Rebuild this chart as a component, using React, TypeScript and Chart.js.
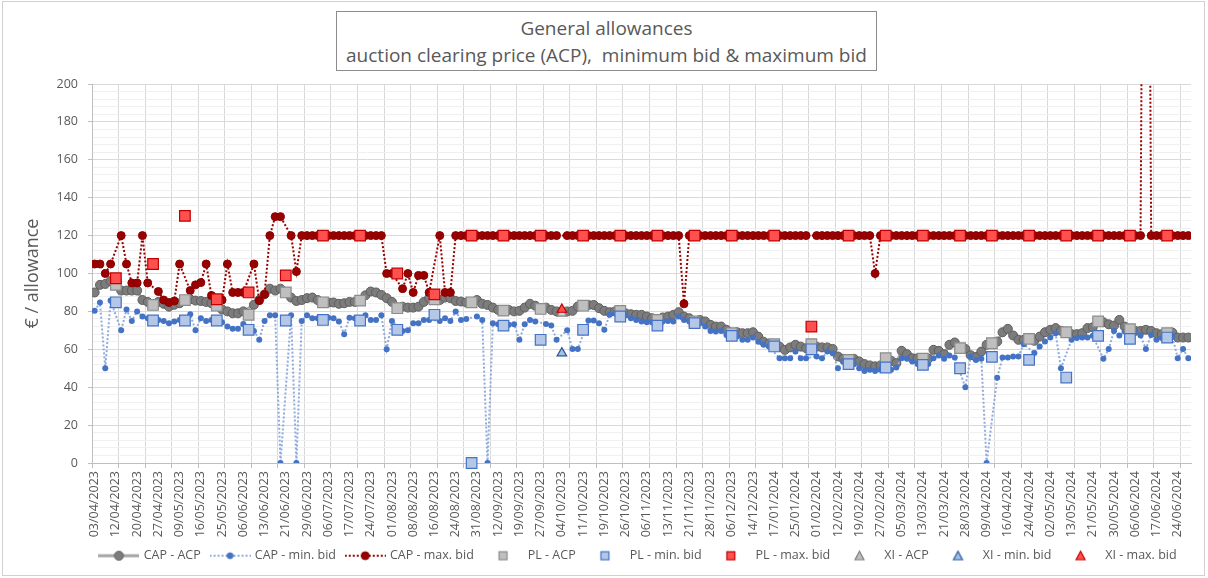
import React, { useEffect, useRef } from 'react';
import { Chart, registerables } from 'chart.js';

Chart.register(...registerables);

const FONT = '"Open Sans", "Liberation Sans", sans-serif';
const TEXT = '#595959';

// Tick labels shown on the category axis (every 4th auction date)
const tickLabels = [
  '03/04/2023', '12/04/2023', '20/04/2023', '27/04/2023', '09/05/2023', '16/05/2023', '25/05/2023',
  '06/06/2023', '13/06/2023', '21/06/2023', '29/06/2023', '06/07/2023', '17/07/2023', '24/07/2023',
  '01/08/2023', '08/08/2023', '16/08/2023', '24/08/2023', '31/08/2023', '12/09/2023', '19/09/2023',
  '27/09/2023', '04/10/2023', '11/10/2023', '19/10/2023', '26/10/2023', '06/11/2023', '13/11/2023',
  '21/11/2023', '28/11/2023', '06/12/2023', '14/12/2023', '17/01/2024', '25/01/2024', '01/02/2024',
  '12/02/2024', '19/02/2024', '27/02/2024', '05/03/2024', '13/03/2024', '21/03/2024', '28/03/2024',
  '09/04/2024', '16/04/2024', '24/04/2024', '02/05/2024', '13/05/2024', '21/05/2024', '30/05/2024',
  '06/06/2024', '17/06/2024', '24/06/2024',
];
const categoryCount = 207;

// CAP (common auction platform) series, one entry per auction date (null = no CAP auction that day)
const capAcp = [
  90, 94, 94.5, 96, null, 91, 91, 91, 91, 86, 85, null, 85, 84, 82.5, 83.5, 84.3, null, 86.4, 85.7,
  85.5, 85, 84.3, null, 81, 80, 79, 79, 80, null, 83.5, 86, 89, 92, 91, 92, null, 87.3, 85.5, 86,
  87, 87.3, 86, null, 84.7, 84.7, 84, 84.3, 85, 85, null, 88.5, 90.5, 90, 88.7, 87, 85, null, 82.5, 82,
  82, 82.5, 85, 87, null, 86, 87.3, 87, 85.5, 85.2, 84.7, null, 86, 84, 83.4, 82, 80.8, null, 80.8, 80,
  80.3, 82, 84, 83, null, 82, 80.8, 80, null, 80, 80.3, 82.6, null, 83.4, 83.4, 81.7, 80.3, 79.6, 80, null,
  79, 78.5, 78.2, 78.2, 77.3, 76.4, null, 76.8, 77.3, 78.2, 79.6, 77.3, 76.4, null, 75.5, 74.7, 72.9, 72, 72, 70.3,
  null, 69, 68.5, 68.5, 69, 66.7, 64, 63, null, 61.4, 59.7, 61, 62.4, 61.4, 60.6, null, 61.4, 61, 61, 60.2,
  56.2, 55, null, 55, 53.6, 52.2, 51.5, 51, 51.5, null, 54, 52.7, 59.2, 57.4, 55.3, 55.3, null, 55, 59.7, 59.2,
  57.4, 62.4, 63.6, null, 60.2, 56.9, 55.9, 58.8, 62.4, null, 64.1, 69, 70.8, 67.3, 65, 65, null, 64.5, 66.7, 69,
  70.3, 71.2, 69.8, null, 68, 68, 68.5, 71.2, 71.6, null, 74.3, 73.2, 72.5, 75.5, 72, null, 69.7, 69.7, 70.3, 69.7,
  68.5, 68, null, 68.8, 66.2, 66.2, 66.2,
];
const capMin = [
  80.3, 84.7, 50, 85.7, null, 70, 81, 75, 80, 77.3, 76.4, null, 75.5, 75, 73.8, 74.7, 75.5, null, 78.5, 70,
  76.4, 75, 75.5, null, 74.3, 72, 70.8, 70.8, 73.3, null, 69.7, 65, 75, 78, 78, 0, null, 78, 0, 75,
  78, 76.4, 76.4, null, 76.7, 76.4, 74.7, 68, 76.7, 76.4, null, 78, 75.5, 75.5, 78, 60, 75, null, 69.7, 70,
  73.8, 73.8, 75.5, 75.5, null, 75, 76.4, 75, 80, 75.5, 76, null, 77.3, 75.5, 0, 73.8, 73.2, null, 72.9, 73.2,
  65, 73.2, 75.5, 74.7, null, 73.4, 72.5, 65, null, 70, 60.2, 60.2, null, 75.2, 75.2, 73.8, 70.3, 78.2, 79, null,
  78.2, 76.4, 75.5, 74.7, 74.3, 74.3, null, 74.7, 75, 74.7, 77.3, 75.5, 74.7, null, 73.8, 72, 69.7, 69.4, 69.7, 67.5,
  null, 66.7, 65, 65, 66.2, 64, 62.4, 61.5, null, 55.3, 55.3, 55.3, 58.8, 55.3, 55.3, null, 56.2, 55.3, 58.8, 57.9,
  50, 53.6, null, 52.2, 50, 48.6, 49.2, 48.6, 49.2, null, 49.2, 50.4, 55.3, 55, 53.6, 52.2, null, 52.2, 55.3, 56.7,
  55, 56.7, 55.7, null, 40, 56.2, 54.4, 55, 0, null, 45, 55.7, 55.7, 56.2, 56.2, 62.7, null, 58, 61.5, 64.1,
  66.2, 68.5, 50, null, 65, 65.9, 66.2, 66.2, 67.1, null, 55, 60.2, 69.7, 67.3, 69.4, null, 69.4, 67.3, 60.2, 67.6,
  65, 65.9, null, 66.7, 55.3, 60.2, 55.3,
];
const capMax = [
  105, 105, 100, 105, null, 120, 105, 95, 95, 120, 95, null, 90.5, 86, 84.7, 85.5, 105, null, 91, 94,
  95.2, 105, 88.4, null, 86, 105, 90, 90, 90, null, 105, 85.7, 89, 120, 130, 130, null, 120, 101, 120,
  120, 120, 120, null, 120, 120, 120, 120, 120, 120, null, 120, 120, 120, 120, 100, 100, null, 92, 100,
  90, 99, 99, 90, null, 120, 90, 90, 120, 120, 120, null, 120, 120, 120, 120, 120, null, 120, 120,
  120, 120, 120, 120, null, 120, 120, 120, null, 120, 120, 120, null, 120, 120, 120, 120, 120, 120, null,
  120, 120, 120, 120, 120, 120, null, 120, 120, 120, 120, 84, 120, null, 120, 120, 120, 120, 120, 120,
  null, 120, 120, 120, 120, 120, 120, 120, null, 120, 120, 120, 120, 120, 120, null, 120, 120, 120, 120,
  120, 120, null, 120, 120, 120, 120, 100, 120, null, 120, 120, 120, 120, 120, 120, null, 120, 120, 120,
  120, 120, 120, null, 120, 120, 120, 120, 120, null, 120, 120, 120, 120, 120, 120, null, 120, 120, 120,
  120, 120, 120, null, 120, 120, 120, 120, 120, null, 120, 120, 120, 120, 120, null, 120, 120, 600, 120,
  120, 120, null, 120, 120, 120, 120,
];

// PL (Poland) auctions: category position and values
const plIndex = [4, 11, 17, 23, 29, 36, 43, 50, 57, 64, 71, 77, 84, 92, 99, 106, 113, 120, 128, 135, 142, 149, 156, 163, 169, 176, 183, 189, 195, 202];
const plAcp = [94, 83.4, 86, 83, 78.2, 90, 84.8, 85.7, 81.7, 86.4, 84.8, 80.4, 81.3, 83, 80.3, 75.5, 74.7, 68.5, 62.7, 62.7, 54.4, 55.3, 55, 60.6, 63.2, 65.5, 69, 74.7, 70.6, 68.5];
const plMin = [84.8, 75.2, 75.2, 75.2, 70.3, 75.2, 75.5, 75.2, 70.3, 78.2, 0, 72.5, 65, 70.3, 77.3, 72.5, 73.8, 67.1, 61.5, 60, 52.2, 50.4, 51.8, 50, 56, 54.4, 45.1, 67.1, 65.5, 66.2];
const plMax = [97.5, 105, 130.4, 86.4, 90, 99, 120, 120, 100, 89, 120, 120, 120, 120, 120, 120, 120, 120, 120, 72, 120, 120, 120, 120, 120, 120, 120, 120, 120, 120];

// XI (Northern Ireland) auction
const xiIndex = [88];
const xiAcp = [79];
const xiMin = [58];
const xiMax = [81];

const series = (arr: (number | null)[]) => arr.map((y, x) => ({ x, y }));
const at = (idx: number[], vals: number[]) => idx.map((x, k) => ({ x, y: vals[k] }));

const ICON_W = 41;
function makeIcon(draw: (c: CanvasRenderingContext2D) => void) {
  const c = document.createElement('canvas');
  c.width = ICON_W;
  c.height = 14;
  const ctx = c.getContext('2d')!;
  draw(ctx);
  return c;
}
function lineIcon(color: string, width: number, dash: number[], fill: string, stroke: string, r: number) {
  return makeIcon((ctx) => {
    ctx.strokeStyle = color;
    ctx.lineWidth = width;
    ctx.setLineDash(dash);
    ctx.beginPath();
    ctx.moveTo(0, 7);
    ctx.lineTo(ICON_W, 7);
    ctx.stroke();
    ctx.setLineDash([]);
    ctx.beginPath();
    ctx.arc(ICON_W / 2, 7, r, 0, Math.PI * 2);
    ctx.fillStyle = fill;
    ctx.fill();
    ctx.strokeStyle = stroke;
    ctx.lineWidth = 1;
    ctx.stroke();
  });
}
function squareIcon(fill: string, stroke: string) {
  return makeIcon((ctx) => {
    ctx.fillStyle = fill;
    ctx.strokeStyle = stroke;
    ctx.lineWidth = 1.2;
    ctx.fillRect(16.5, 3, 8, 8);
    ctx.strokeRect(16.5, 3, 8, 8);
  });
}
function triIcon(fill: string, stroke: string) {
  return makeIcon((ctx) => {
    ctx.fillStyle = fill;
    ctx.strokeStyle = stroke;
    ctx.lineWidth = 1.2;
    ctx.beginPath();
    ctx.moveTo(20.5, 2.5);
    ctx.lineTo(25, 11);
    ctx.lineTo(16, 11);
    ctx.closePath();
    ctx.fill();
    ctx.stroke();
  });
}

export default function App() {
  const ref = useRef<HTMLCanvasElement>(null);

  useEffect(() => {
    if (!ref.current) return;
    const icons = [
      lineIcon('#a5a5a5', 3, [], '#7c7c7c', '#5e5e5e', 4.5),
      lineIcon('#8faadc', 2, [2, 2], '#4472c4', '#4472c4', 3),
      lineIcon('#990000', 2, [2, 2], '#990000', '#800000', 4),
      squareIcon('#bfbfbf', '#8c8c8c'),
      squareIcon('#b4c7e7', '#4472c4'),
      squareIcon('#ff5050', '#c00000'),
      triIcon('#bfbfbf', '#7f7f7f'),
      triIcon('#9dc3e6', '#2f5597'),
      triIcon('#ff5050', '#c00000'),
    ];

    const labelTicks = tickLabels.map((_, k) => ({ value: k * 4 }));
    const gridTicks: { value: number }[] = [];
    for (let v = -0.5; v <= categoryCount - 0.5; v += 5) gridTicks.push({ value: v });
    const yTicks: { value: number }[] = [];
    for (let v = 0; v <= 200; v += 4) yTicks.push({ value: v });

    const legendShift = {
      id: 'legendShift',
      afterLayout(ch: any) {
        if (ch.legend && ch.chartArea) {
          ch.legend.left = ch.chartArea.left - 3;
          ch.legend.right = ch.chartArea.right - 3;
        }
      },
    };

    const chart = new Chart(ref.current, {
      type: 'line',
      plugins: [legendShift],
      data: {
        datasets: [
          {
            label: 'CAP - ACP', data: series(capAcp), xAxisID: 'x', yAxisID: 'y',
            borderColor: '#a5a5a5', borderWidth: 3, spanGaps: true, order: 9,
            pointRadius: 4.5, pointBackgroundColor: '#7c7c7c', pointBorderColor: '#5e5e5e', pointBorderWidth: 1,
          },
          {
            label: 'CAP - min. bid', data: series(capMin), xAxisID: 'x', yAxisID: 'y',
            borderColor: '#8faadc', borderWidth: 2, borderDash: [2, 2], spanGaps: true, order: 8,
            pointRadius: 3, pointBackgroundColor: '#4472c4', pointBorderColor: '#4472c4', pointBorderWidth: 0,
          },
          {
            label: 'CAP - max. bid', data: series(capMax), xAxisID: 'x', yAxisID: 'y',
            borderColor: '#990000', borderWidth: 2, borderDash: [2, 2], spanGaps: true, order: 7,
            pointRadius: 4, pointBackgroundColor: '#990000', pointBorderColor: '#8a0000', pointBorderWidth: 1,
          },
          {
            label: 'PL - ACP', data: at(plIndex, plAcp), xAxisID: 'x', yAxisID: 'y', showLine: false, order: 6,
            pointStyle: 'rect', pointRadius: 7.5, pointBackgroundColor: '#bfbfbf', pointBorderColor: '#8c8c8c', pointBorderWidth: 1.2,
            borderColor: '#8c8c8c', clip: false,
          },
          {
            label: 'PL - min. bid', data: at(plIndex, plMin), xAxisID: 'x', yAxisID: 'y', showLine: false, order: 5,
            pointStyle: 'rect', pointRadius: 7.5, pointBackgroundColor: '#b4c7e7', pointBorderColor: '#4472c4', pointBorderWidth: 1.2,
            borderColor: '#4472c4', clip: false,
          },
          {
            label: 'PL - max. bid', data: at(plIndex, plMax), xAxisID: 'x', yAxisID: 'y', showLine: false, order: 4,
            pointStyle: 'rect', pointRadius: 7.5, pointBackgroundColor: '#ff5050', pointBorderColor: '#c00000', pointBorderWidth: 1.2,
            borderColor: '#c00000', clip: false,
          },
          {
            label: 'XI - ACP', data: at(xiIndex, xiAcp), xAxisID: 'x', yAxisID: 'y', showLine: false, order: 3,
            pointStyle: 'triangle', pointRadius: 5.5, pointBackgroundColor: '#d0d0d0', pointBorderColor: '#7f7f7f', pointBorderWidth: 1.2,
            borderColor: '#7f7f7f',
          },
          {
            label: 'XI - min. bid', data: at(xiIndex, xiMin), xAxisID: 'x', yAxisID: 'y', showLine: false, order: 2,
            pointStyle: 'triangle', pointRadius: 5.5, pointBackgroundColor: '#9dc3e6', pointBorderColor: '#2f5597', pointBorderWidth: 1.2,
            borderColor: '#2f5597',
          },
          {
            label: 'XI - max. bid', data: at(xiIndex, xiMax), xAxisID: 'x', yAxisID: 'y', showLine: false, order: 1,
            pointStyle: 'triangle', pointRadius: 5.5, pointBackgroundColor: '#ff5050', pointBorderColor: '#c00000', pointBorderWidth: 1.2,
            borderColor: '#c00000',
          },
        ],
      },
      options: {
        responsive: false,
        animation: false,
        events: [],
        layout: { padding: { left: 0, right: 17, top: 84, bottom: 6 } },
        plugins: {
          title: { display: false },
          tooltip: { enabled: false },
          legend: {
            position: 'bottom',
            labels: {
              usePointStyle: true,
              pointStyleWidth: 37,
              padding: 10.75,
              color: TEXT,
              font: { family: FONT, size: 12.5 },
              generateLabels: (ch: any) =>
                ch.data.datasets.map((ds: any, i: number) => ({
                  text: ds.label,
                  pointStyle: icons[i],
                  fillStyle: 'rgba(0,0,0,0)',
                  strokeStyle: 'rgba(0,0,0,0)',
                  lineWidth: 0,
                  hidden: false,
                  datasetIndex: i,
                  fontColor: TEXT,
                })),
            },
          },
        },
        scales: {
          xg: {
            type: 'linear', position: 'bottom', min: -0.5, max: categoryCount - 0.5, weight: 0,
            afterBuildTicks: (s: any) => { s.ticks = gridTicks.map((t) => ({ ...t })); },
            ticks: { display: false },
            grid: { color: '#d9d9d9', tickLength: 5, tickColor: '#bfbfbf', lineWidth: 1 },
            border: { color: '#bfbfbf' },
            afterFit: (s: any) => { s.height = 0; },
          },
          x: {
            type: 'linear', position: 'bottom', min: -0.5, max: categoryCount - 0.5, weight: 1,
            afterBuildTicks: (s: any) => { s.ticks = labelTicks.map((t) => ({ ...t })); },
            ticks: {
              autoSkip: false, maxRotation: 90, minRotation: 90, padding: 8, color: TEXT,
              font: { family: FONT, size: 12.5 },
              callback: (v: any) => tickLabels[Math.round(Number(v) / 4)] ?? '',
            },
            grid: { display: false, drawTicks: false },
            border: { display: false },
            afterFit: (s: any) => { s.height = 75.75; },
          },
          y: {
            type: 'linear', position: 'left', min: 0, max: 200,
            afterBuildTicks: (s: any) => { s.ticks = yTicks.map((t) => ({ ...t })); },
            ticks: {
              autoSkip: false, padding: 10, color: TEXT, font: { family: FONT, size: 12.5 },
              callback: (v: any) => (Number(v) % 20 === 0 ? String(v) : ''),
            },
            grid: {
              color: (c: any) => (c.tick && c.tick.value % 20 === 0 ? '#d9d9d9' : '#f0f0f0'),
              tickColor: (c: any) => (c.tick && c.tick.value % 20 === 0 ? '#bfbfbf' : 'rgba(0,0,0,0)'),
              tickLength: 4,
            },
            border: { color: '#bfbfbf' },
            title: {
              display: true, text: '€ / allowance', color: TEXT,
              font: { family: FONT, size: 18 }, padding: { top: 22, bottom: 0 },
            },
            afterFit: (s: any) => { s.width = 92; },
          },
        },
      } as any,
    });
    return () => chart.destroy();
  }, []);

  return (
    <div style={{ position: 'fixed', left: 0, top: 0, width: 1208, height: 578, background: '#ffffff', overflow: 'hidden' }}>
      <canvas ref={ref} width={1208} height={578} style={{ position: 'absolute', left: 0, top: 0 }} />
      <div
        style={{
          position: 'absolute', left: 2, top: 1, width: 1203, height: 575,
          border: '1px solid #d0d0d0', boxSizing: 'border-box', pointerEvents: 'none',
        }}
      />
      <div
        style={{
          position: 'absolute', left: 336, top: 11, width: 541, height: 60, boxSizing: 'border-box',
          border: '1px solid #8c8c8c', background: '#ffffff', color: TEXT, fontFamily: FONT,
          fontSize: 19, lineHeight: '27px', textAlign: 'center', paddingTop: 3, whiteSpace: 'pre',
        }}
      >
        <div>General allowances</div>
        <div>auction clearing price (ACP),  minimum bid &amp; maximum bid</div>
      </div>
    </div>
  );
}
